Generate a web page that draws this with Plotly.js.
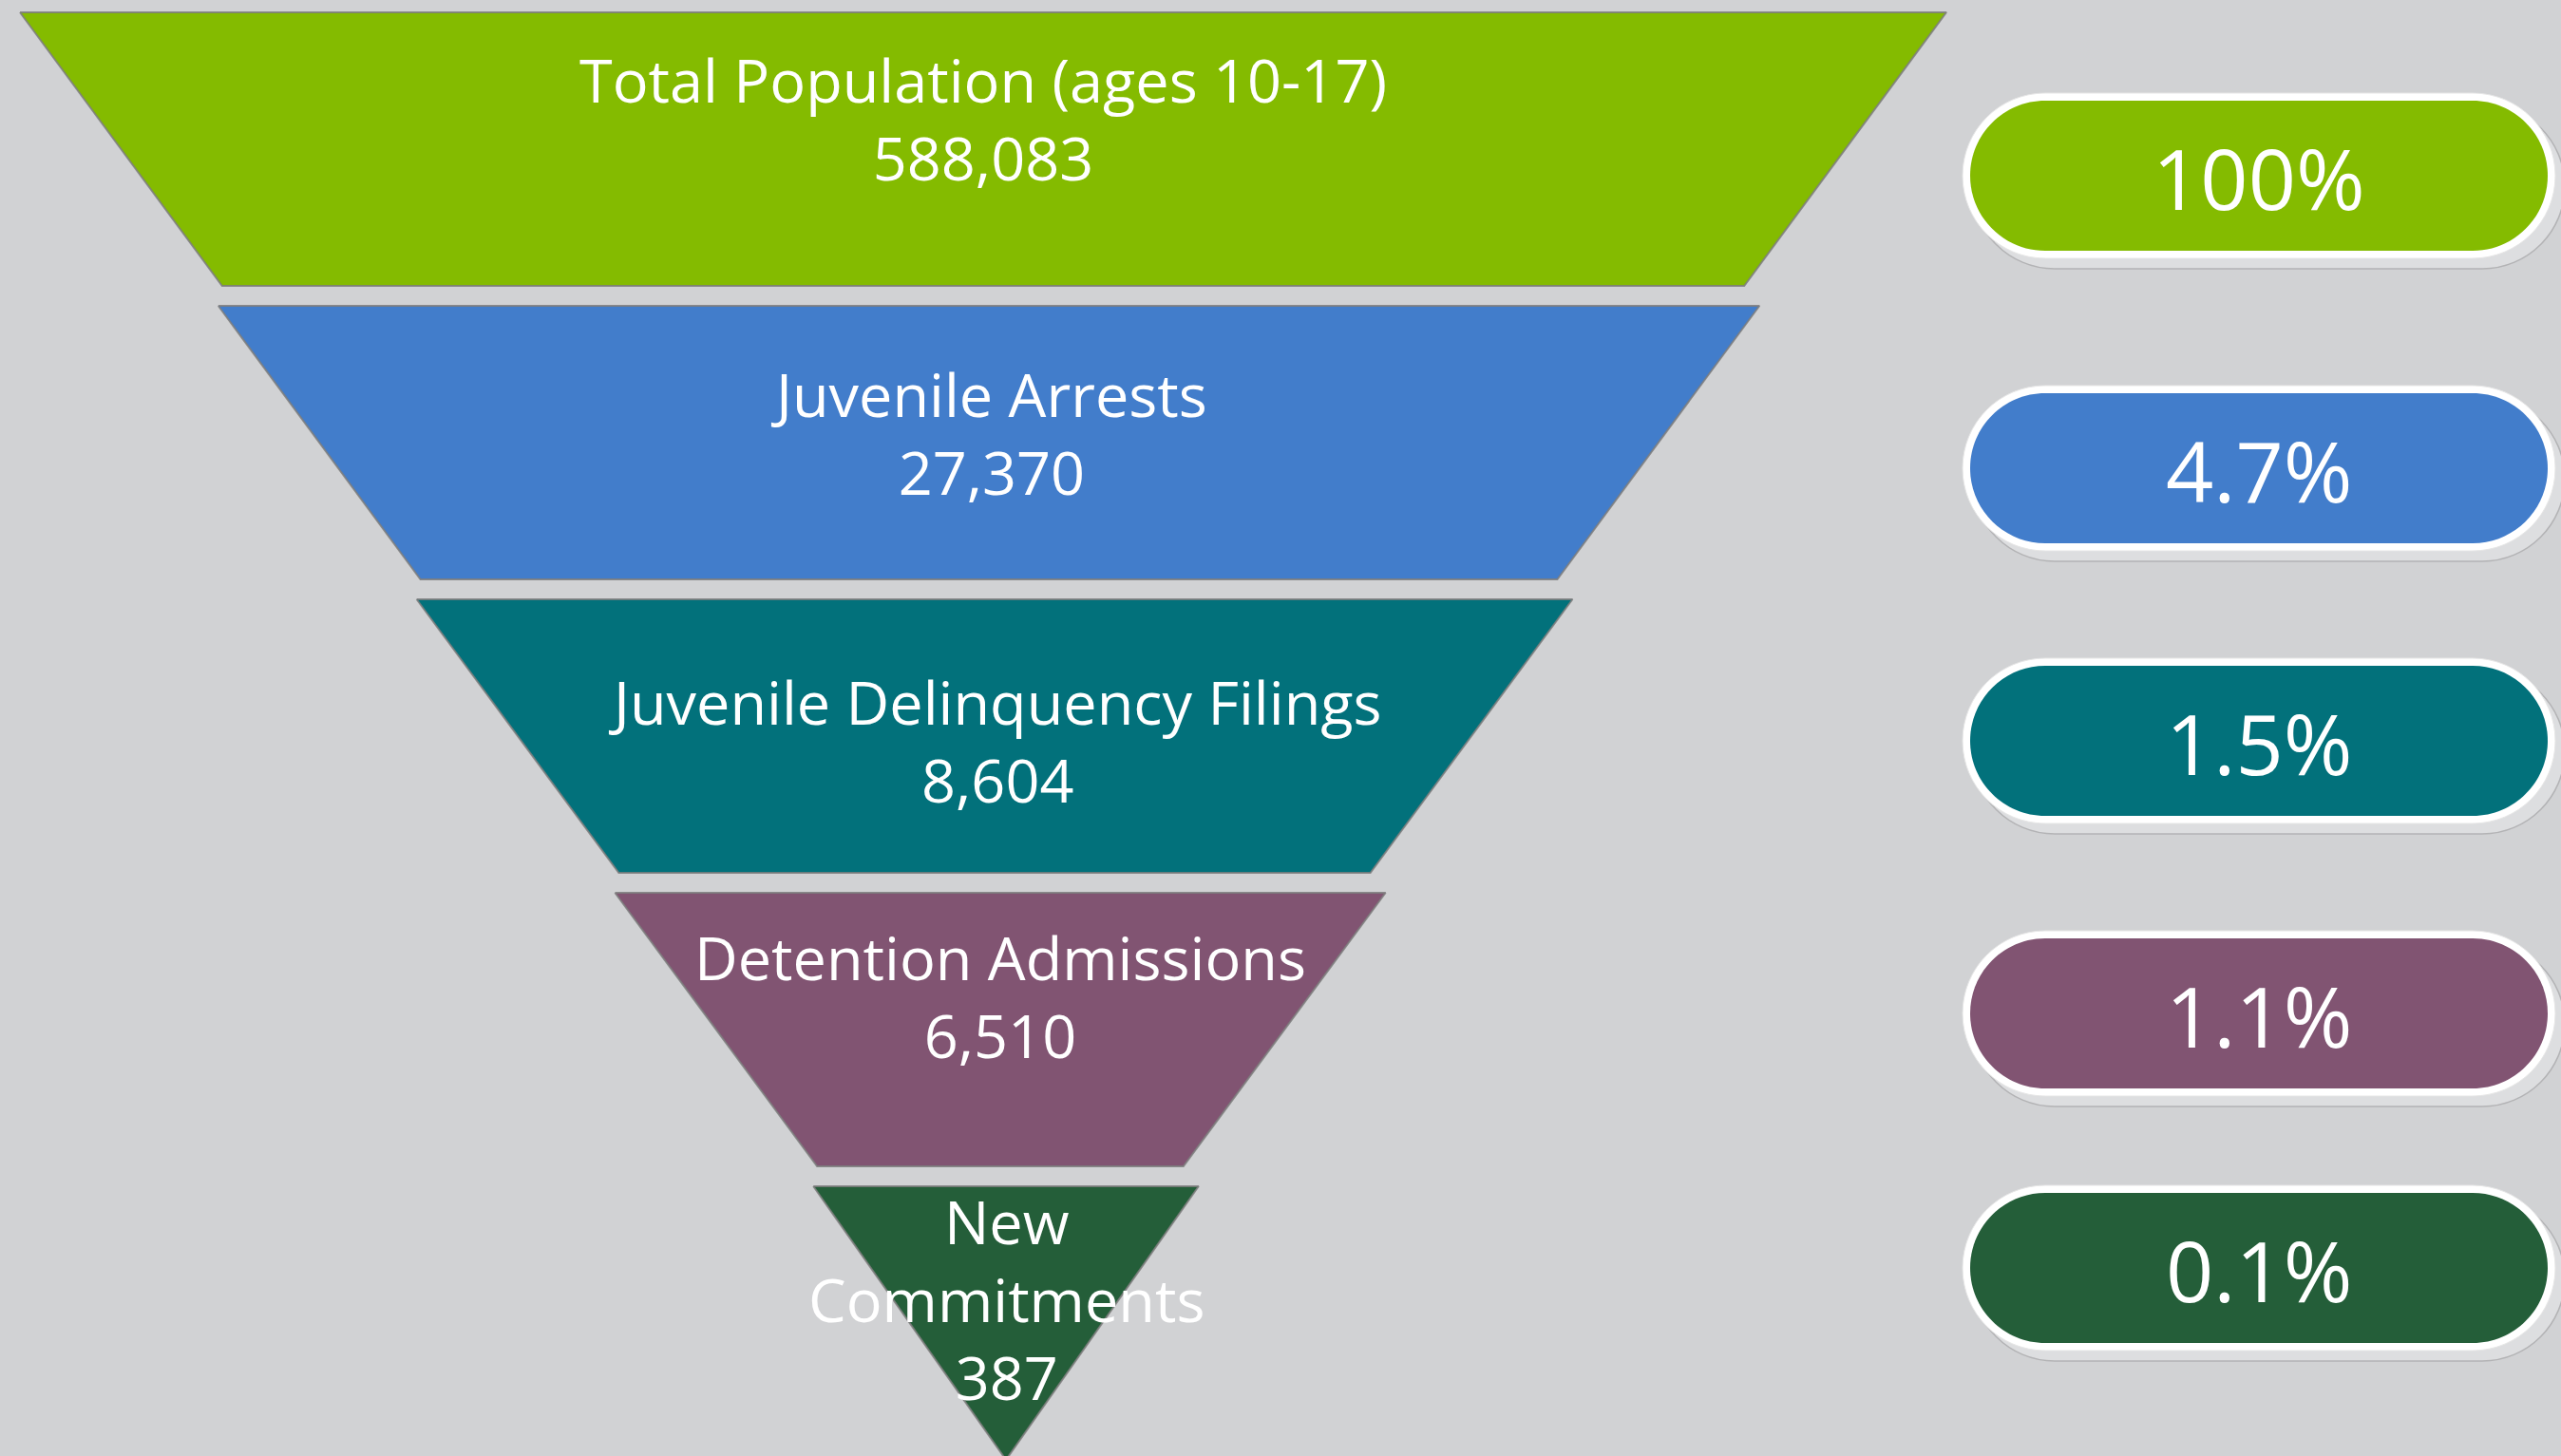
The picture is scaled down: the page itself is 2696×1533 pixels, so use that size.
<!DOCTYPE html>
<html>
<head>
<meta charset="utf-8">
<script src="https://cdn.plot.ly/plotly-3.0.1.min.js"></script>
<style>
  html, body { margin: 0; padding: 0; background: #D1D2D4; overflow: hidden; }
  #chart { width: 2696px; height: 1533px; }
</style>
</head>
<body>
<div id="chart"></div>
<script>
// ---- data ----
const categories = ["Total Population (ages 10-17)", "Juvenile Arrests", "Juvenile Delinquency Filings", "Detention Admissions", "New Commitments"];
const counts = [588083, 27370, 8604, 6510, 387];
const shareLabels = ["100%", "4.7%", "1.5%", "1.1%", "0.1%"];

// ---- styles / layout geometry ----
const colors = ["#84BB00", "#427DCB", "#02717B", "#815472", "#245E39"];
const W = 2696, H = 1533;
const bg = "#D1D2D4";
const funnel = { top: 13, segH: 288, gap: 21, halfTop: 1014, cx0: 1035, drift: 6, step: 10 };
const labelY = [124, 455, 779, 1048, 1367];
const wrapLast = true;
const pill = { x0: 2066, x1: 2690, h: 174, inset: 8, sdx: 10, sdy: 11 };
const pillY = [185, 493, 780, 1067, 1335];
const labelFont = { family: "Open Sans, Noto Sans, sans-serif", size: 63, color: "#FFFFFF" };
const pillFont = { family: "Open Sans, Noto Sans, sans-serif", size: 88, color: "#FFFFFF" };

const n = categories.length;
const traces = [];
const annotations = [];
const shapes = [];

for (let i = 0; i < n; i++) {
  const top = funnel.top + i * (funnel.segH + funnel.gap);
  const bot = top + funnel.segH;
  const ht = funnel.halfTop * (1 - i / n);
  const hb = Math.max(0, funnel.halfTop * (1 - (i + 1) / n) - (i < n - 1 ? funnel.step : 0));
  const cx = funnel.cx0 + funnel.drift * i;
  traces.push({
    type: "scatter",
    mode: "lines",
    x: [cx - ht, cx + ht, cx + hb, cx - hb, cx - ht],
    y: [top, top, bot, bot, top],
    fill: "toself",
    fillcolor: colors[i],
    line: { color: "rgba(125,125,125,0.85)", width: 2 },
    hoverinfo: "skip",
    showlegend: false,
    name: categories[i]
  });
  const label = (wrapLast && i === n - 1) ? categories[i].replace(" ", "<br>") : categories[i];
  annotations.push({
    x: cx, y: labelY[i], xref: "x", yref: "y",
    text: label + "<br>" + counts[i].toLocaleString("en-US"),
    showarrow: false, xanchor: "center", yanchor: "middle",
    font: labelFont
  });
}

function stadium(x0, x1, y0, y1) {
  const r = (y1 - y0) / 2, yc = (y0 + y1) / 2, k = 0.5523 * r;
  return `M ${x0 + r},${y0} L ${x1 - r},${y0} ` +
    `C ${x1 - r + k},${y0} ${x1},${yc - k} ${x1},${yc} ` +
    `C ${x1},${yc + k} ${x1 - r + k},${y1} ${x1 - r},${y1} ` +
    `L ${x0 + r},${y1} ` +
    `C ${x0 + r - k},${y1} ${x0},${yc + k} ${x0},${yc} ` +
    `C ${x0},${yc - k} ${x0 + r - k},${y0} ${x0 + r},${y0} Z`;
}

for (let i = 0; i < n; i++) {
  const yc = pillY[i];
  const y0 = yc - pill.h / 2, y1 = yc + pill.h / 2;
  // shadow
  shapes.push({ type: "path", xref: "x", yref: "y", layer: "above",
    path: stadium(pill.x0 + pill.sdx, pill.x1 + pill.sdx, y0 + pill.sdy, y1 + pill.sdy),
    fillcolor: "#DDDEE0", line: { color: "#B3B3B5", width: 1.5 } });
  // white ring
  shapes.push({ type: "path", xref: "x", yref: "y", layer: "above",
    path: stadium(pill.x0, pill.x1, y0, y1),
    fillcolor: "#FFFFFF", line: { color: "#E6E6E6", width: 1 } });
  // coloured body
  shapes.push({ type: "path", xref: "x", yref: "y", layer: "above",
    path: stadium(pill.x0 + pill.inset, pill.x1 - pill.inset, y0 + pill.inset, y1 - pill.inset),
    fillcolor: colors[i], line: { width: 0 } });
  annotations.push({
    x: (pill.x0 + pill.x1) / 2, y: yc + 2, xref: "x", yref: "y",
    text: shareLabels[i], showarrow: false, xanchor: "center", yanchor: "middle",
    font: pillFont
  });
}

const layout = {
  width: W, height: H,
  margin: { l: 0, r: 0, t: 0, b: 0, pad: 0 },
  paper_bgcolor: bg, plot_bgcolor: bg,
  xaxis: { range: [0, W], visible: false, fixedrange: true },
  yaxis: { range: [H, 0], visible: false, fixedrange: true },
  showlegend: false,
  shapes: shapes,
  annotations: annotations
};

Plotly.newPlot("chart", traces, layout, { staticPlot: true, displayModeBar: false });
</script>
</body>
</html>
